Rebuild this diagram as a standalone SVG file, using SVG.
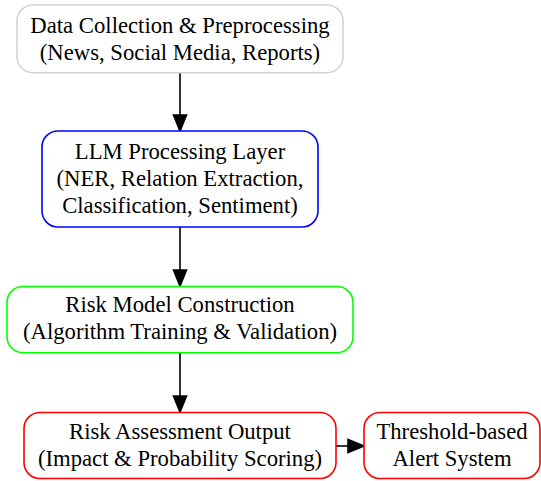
<svg xmlns="http://www.w3.org/2000/svg" width="541" height="481" viewBox="0 0 541 481">
  <style>
    .box { fill: #ffffff; stroke-width: 1.6; }
    .lbl { font-family: "Liberation Serif", "Times New Roman", serif; font-size: 22.7px; fill: #000000; text-anchor: middle; }
    .edge { stroke: #000000; stroke-width: 1.6; fill: none; }
    .head { fill: #000000; stroke: #000000; stroke-width: 1.6; }
  </style>
  <rect width="541" height="481" fill="#ffffff"/>

  <g id="connectors">
    <line class="edge" x1="180" y1="72.7" x2="180" y2="115"/>
    <polygon class="head" points="173.5,115 186.5,115 180,131"/>
    <line class="edge" x1="180" y1="227" x2="180" y2="270"/>
    <polygon class="head" points="173.5,270 186.5,270 180,286"/>
    <line class="edge" x1="180" y1="352.7" x2="180" y2="396"/>
    <polygon class="head" points="173.5,396 186.5,396 180,412"/>
    <line class="edge" x1="336" y1="446" x2="348" y2="446"/>
    <polygon class="head" points="348,439.5 348,452.5 364,446"/>
  </g>

  <g id="data-collection">
    <rect class="box" x="17" y="5" width="326" height="67.7" rx="16" stroke="#d3d3d3"/>
    <text class="lbl" x="180" y="32.5">Data Collection &amp; Preprocessing</text>
    <text class="lbl" x="180" y="59.5">(News, Social Media, Reports)</text>
  </g>

  <g id="llm-processing">
    <rect class="box" x="42" y="131" width="276" height="96" rx="16" stroke="#0000ff"/>
    <text class="lbl" x="180" y="158.5">LLM Processing Layer</text>
    <text class="lbl" x="180" y="185.5">(NER, Relation Extraction,</text>
    <text class="lbl" x="180" y="212.5">Classification, Sentiment)</text>
  </g>

  <g id="risk-model">
    <rect class="box" x="7" y="286.5" width="346" height="66.2" rx="16" stroke="#00ff00"/>
    <text class="lbl" x="180" y="312">Risk Model Construction</text>
    <text class="lbl" x="180" y="339">(Algorithm Training &amp; Validation)</text>
  </g>

  <g id="risk-assessment">
    <rect class="box" x="24" y="412.5" width="312" height="66" rx="16" stroke="#ff0000"/>
    <text class="lbl" x="180" y="439">Risk Assessment Output</text>
    <text class="lbl" x="180" y="466">(Impact &amp; Probability Scoring)</text>
  </g>

  <g id="alert-system">
    <rect class="box" x="364" y="412.5" width="176" height="66" rx="16" stroke="#ff0000"/>
    <text class="lbl" x="452" y="439">Threshold-based</text>
    <text class="lbl" x="452" y="466">Alert System</text>
  </g>
</svg>
